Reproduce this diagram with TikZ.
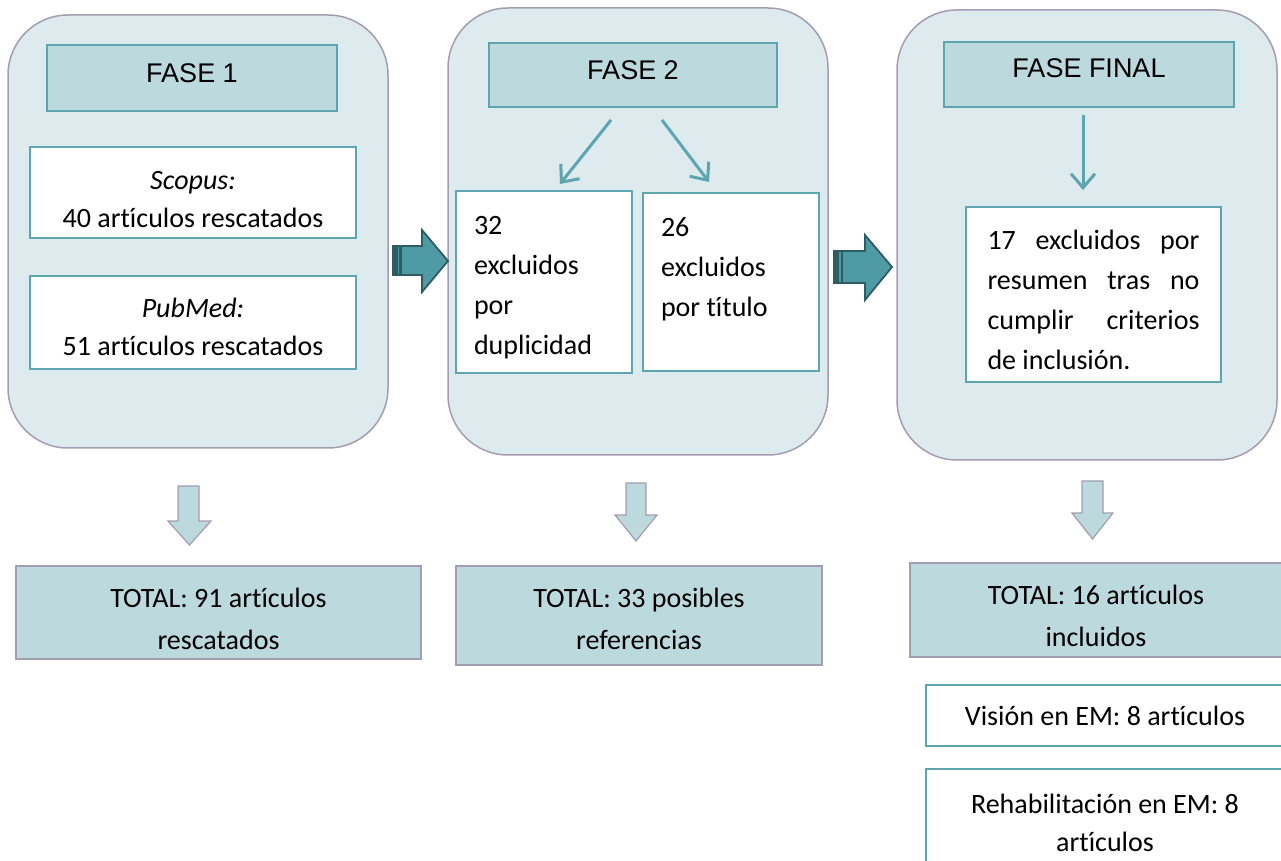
\documentclass[tikz,border=0pt]{standalone}
\usepackage{fontspec}
\setmainfont{Carlito}
\newfontfamily\arialfont{Liberation Sans}
\usepackage{tikz}
\usetikzlibrary{arrows.meta}
\usetikzlibrary{positioning}

\definecolor{panelfill}{HTML}{DDEBEE}
\definecolor{panelline}{HTML}{A49CB0}
\definecolor{headfill}{HTML}{BCD9DD}
\definecolor{tealline}{HTML}{5FA5AF}
\definecolor{arrowfill}{HTML}{4E9BA5}
\definecolor{arrowdark}{HTML}{2E5C63}

% accented i built by hand
\newcommand{\iac}{{\accent"B4 \i}}

\begin{document}
\begin{tikzpicture}[x=0.5pt, y=-0.5pt,
        panel/.style={draw=panelline, fill=panelfill, line width=0.75pt, rounded corners=30pt},
        header/.style={draw=tealline, fill=headfill, line width=0.75pt, text height=10pt, font=\arialfont\fontsize{13.5}{16}\selectfont},
        whitebox/.style={draw=tealline, fill=white, line width=1pt, text height=10pt, font=\fontsize{14}{19}\selectfont, align=flush center},
        listbox/.style={draw=tealline, fill=white, line width=1pt, text height=10pt, font=\fontsize{14}{20}\selectfont, align=flush left, text width=70pt},
        totalbox/.style={draw=panelline, fill=headfill, line width=0.75pt, text height=10pt, font=\fontsize{14}{21}\selectfont, align=flush center},
        bigright/.style={draw=arrowdark, fill=arrowfill, line width=0.9pt, line join=miter},
        bigdown/.style={draw=panelline, fill=headfill, line width=0.6pt},
        thin/.style={draw=tealline, line width=1.5pt},
        >={Straight Barb[length=7pt, width=12pt]}]
        \useasboundingbox (0,0) rectangle (1281,861);
        \clip (0,0) rectangle (1281,861);

        % phases
        \node (p1) at (198,231.5) [panel, minimum width=190pt, minimum height=216.5pt] {};
        \node (p2) at (638,231.5) [panel, minimum width=190pt, minimum height=223.5pt] {};
        \node (p3) at (1087,235) [panel, minimum width=190pt, minimum height=225pt] {};

        % headers
        \node (fase1) at (192,78) [header, text depth=5.5pt, minimum width=145pt, minimum height=33pt] {FASE 1};
        \node (fase2) at (633,75) [header, text depth=5.5pt, minimum width=144pt, minimum height=32pt] {FASE 2};
        \node (fasef) at (1089,74.5) [header, text depth=7pt, minimum width=145pt, minimum height=32.5pt] {FASE FINAL};

        % databases
        \node (scopus) at (193,192.5) [whitebox, text width=150pt, text depth=12.5pt, minimum width=163pt, minimum height=45.5pt] {\textit{Scopus:}\\ 40 art\iac culos rescatados};
        \node (pubmed) at (193,322.5) [whitebox, text width=150pt, text depth=14.5pt, minimum width=163pt, minimum height=46.5pt] {\textit{PubMed:}\\ 51 art\iac culos rescatados};

        % exclusions
        \node (ex32) at (544,282) [listbox, text depth=57pt, minimum width=88pt, minimum height=91pt] {32\\ excluidos\\ por\\ duplicidad};
        \node (ex26) at (731,282) [listbox, text depth=55pt, minimum width=88pt, minimum height=89pt] {26\\ excluidos\\ por t\iac tulo};
        \node (ex17) at (1093.5,294.5) [listbox, text width=106pt, text depth=54.5pt, minimum width=127.5pt, minimum height=87.5pt]
            {17\hfill excluidos\hfill por\\ resumen\hfill tras\hfill no\\ cumplir\hfill criterios\\ de inclusión.};

        % totals
        \node (tot1) at (218.5,612.5) [totalbox, text width=190pt, text depth=15.5pt, minimum width=202.5pt, minimum height=46.5pt] {TOTAL: 91 art\iac culos\\ rescatados};
        \node (tot2) at (639,615.5) [totalbox, text width=170pt, text depth=18.5pt, minimum width=183pt, minimum height=49.5pt] {TOTAL: 33 posibles\\ referencias};
        \node (tot3) at (1096,610) [totalbox, text width=170pt, text depth=15.5pt, minimum width=186pt, minimum height=47pt] {TOTAL: 16 art\iac culos\\ incluidos};

        % results
        \node (vision) at (1105,715.5) [whitebox, text depth=0pt, minimum width=179pt, minimum height=30.5pt] {Visión en EM: 8 art\iac culos};
        \node (rehab) at (1105,824.5) [whitebox, text width=165pt, text depth=21.5pt, minimum width=179pt, minimum height=55.5pt] {Rehabilitación en EM: 8\\ art\iac culos};

        % connections
        \coordinate (s32) at (611,120);
        \coordinate (e32) at (560,184);
        \coordinate (s26) at (662,120);
        \coordinate (e26) at (709,182);
        \coordinate (s17) at (1083,115);
        \coordinate (e17) at (1083,190);
        \draw[thin, ->] (s32) -- (e32);
        \draw[thin, ->] (s26) -- (e26);
        \draw[thin, ->] (s17) -- (e17);

        % block arrows between phases
        \draw[bigright] (393,246) -- (422,246) -- (422,230) -- (448,261) -- (422,292) -- (422,275) -- (393,275) -- cycle;
        \fill[arrowdark] (393,246) rectangle (397.5,275);
        \fill[arrowdark] (399,246) rectangle (402,275);
        \draw[bigright] (834,251) -- (865,251) -- (865,235) -- (892,267) -- (865,300) -- (865,283) -- (834,283) -- cycle;
        \fill[arrowdark] (834,251) rectangle (839,283);
        \fill[arrowdark] (840.5,251) rectangle (843,283);

        % arrows to totals
        \draw[bigdown] (178,486) -- (199,486) -- (199,521) -- (211,521) -- (189.5,545) -- (168,521) -- (178,521) -- cycle;
        \draw[bigdown] (626,483) -- (646,483) -- (646,515) -- (657,515) -- (636,541) -- (615,515) -- (626,515) -- cycle;
        \draw[bigdown] (1082,481) -- (1103,481) -- (1103,513) -- (1113,513) -- (1092.5,539) -- (1072,513) -- (1082,513) -- cycle;
    \end{tikzpicture}
\end{document}
